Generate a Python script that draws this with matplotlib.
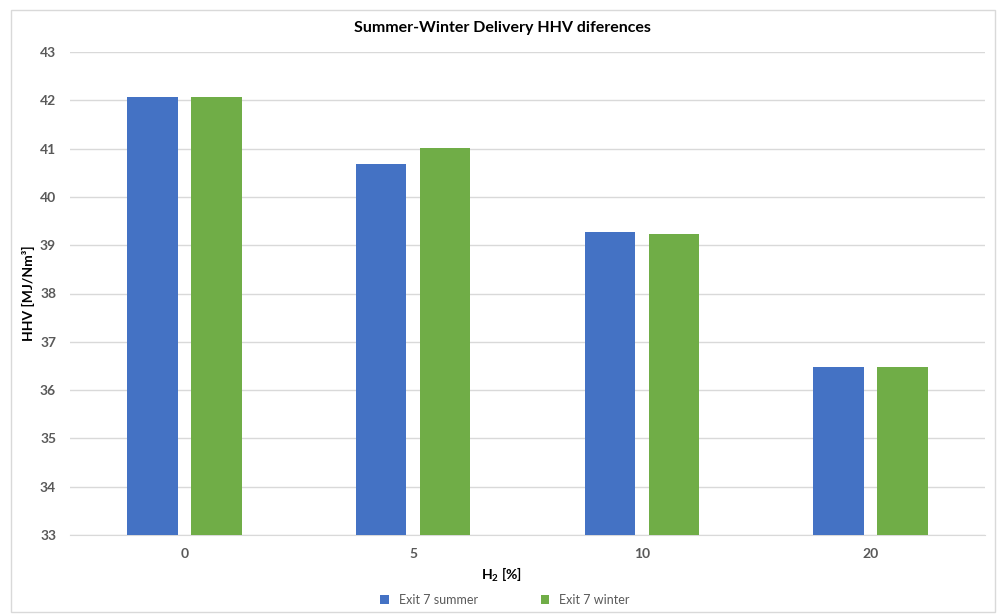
import matplotlib.pyplot as plt
import matplotlib.patches as mpatches
import numpy as np

plt.rcParams['font.family'] = ['Lato', 'DejaVu Sans']
plt.rcParams['mathtext.fontset'] = 'custom'
plt.rcParams['mathtext.rm'] = 'Lato'
plt.rcParams['mathtext.bf'] = 'Lato:bold'

# Data
categories = ['0', '5', '10', '20']
summer = [42.07, 40.68, 39.27, 36.47]
winter = [42.07, 41.02, 39.23, 36.47]
y_ticks = list(range(33, 44))

blue = '#4472C4'
green = '#70AD47'
grid_col = '#D9D9D9'
tick_col = '#595959'

fig = plt.figure(figsize=(9.98, 6.15), dpi=100)
W, H = 998, 615
ax = fig.add_axes([70 / W, 1 - 535 / H, 915 / W, 483 / H])

x = np.arange(len(categories))
ax.bar(x - 0.14, np.array(summer) - 33, bottom=33, width=0.22, color=blue,
       label='Exit 7 summer', zorder=3)
ax.bar(x + 0.14, np.array(winter) - 33, bottom=33, width=0.22, color=green,
       label='Exit 7 winter', zorder=3)

ax.set_xlim(-0.5, len(categories) - 0.5)
ax.set_ylim(33, 43)
ax.set_yticks(y_ticks)
ax.set_yticklabels([str(v) for v in y_ticks], fontweight='bold')
ax.set_xticks(x)
ax.set_xticklabels(categories, fontweight='bold')
ax.yaxis.grid(True, color=grid_col, linewidth=1, zorder=0)
ax.set_axisbelow(True)
for s in ['top', 'right', 'left']:
    ax.spines[s].set_visible(False)
ax.spines['bottom'].set_color(grid_col)
ax.tick_params(axis='both', length=0, labelcolor=tick_col, labelsize=10)
ax.tick_params(axis='x', pad=9)
ax.tick_params(axis='y', pad=10)

fig.text(502 / W, 1 - 28 / H, 'Summer-Winter Delivery HHV diferences',
         ha='center', va='center', fontsize=11.5, fontweight='bold', color='black')
fig.text(502 / W, 1 - 575 / H, r'$\mathbf{H_2}$ [%]', ha='center', va='center',
         fontsize=10, fontweight='bold', color='black')
fig.text(28 / W, 1 - 293 / H, 'HHV [MJ/Nm³]', ha='center', va='center',
         rotation=90, fontsize=10, fontweight='bold', color='black')

fig.legend(loc='center', bbox_to_anchor=(505 / W, 1 - 600 / H), ncol=2,
           frameon=False, fontsize=9, handlelength=0.7, handleheight=0.7,
           columnspacing=5, labelcolor=tick_col)

fig.patches.append(mpatches.Rectangle((11 / W, 3 / H), 984 / W, 602 / H,
                                      transform=fig.transFigure, fill=False,
                                      edgecolor=grid_col, linewidth=1))

plt.savefig('out.png', dpi=100)
